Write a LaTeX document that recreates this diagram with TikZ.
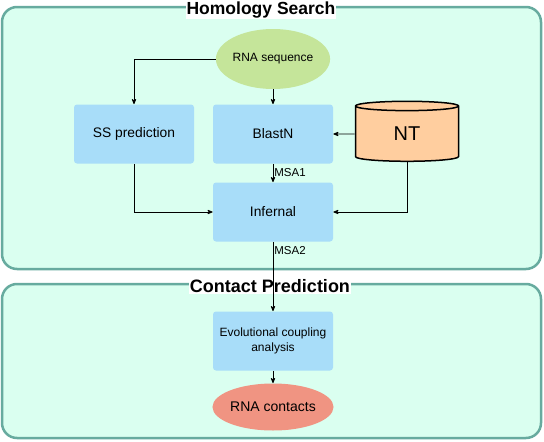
\documentclass[tikz,border=0pt]{standalone}
\usepackage{fontspec}
\setmainfont{Liberation Sans}
\usetikzlibrary{arrows,shapes.geometric}

\definecolor{groupline}{RGB}{103,171,159}
\definecolor{groupfill}{RGB}{218,255,240}
\definecolor{boxfill}{RGB}{168,221,249}
\definecolor{seqfill}{RGB}{197,229,154}
\definecolor{dbfill}{RGB}{255,206,159}
\definecolor{outfill}{RGB}{240,148,130}

\tikzset{
  group/.style={draw=groupline,fill=groupfill,line width=2.5pt,rounded corners=15pt},
  grouptitle/.style={fill=white,inner sep=1pt,font=\fontsize{17.5}{20}\selectfont\bfseries},
  box/.style={rectangle,fill=boxfill,rounded corners=3pt,minimum width=120pt,minimum height=59pt,
    inner sep=0pt,align=center,font=\fontsize{13.8}{16}\selectfont},
  lbl/.style={font=\fontsize{11.5}{13}\selectfont,inner sep=1pt}
}

\begin{document}
\begin{tikzpicture}[x=1pt,y=-1pt,>=stealth',line width=0.8pt]
  \useasboundingbox (0,0) rectangle (544,442);
  \draw[group] (2,7) rectangle (541,269);
  \draw[group] (2,284) rectangle (541,438);
  \node[grouptitle] (homtitle) at (261,10) {Homology Search};
  \node[grouptitle,font=\fontsize{18}{20}\selectfont\bfseries] (contitle) at (270,286) {Contact Prediction};

  \node[ellipse,fill=seqfill,minimum width=100pt,minimum height=60pt,inner sep=0pt,
    font=\fontsize{12}{14}\selectfont] (seq) at (273,59) {RNA sequence};
  \node[box]         (blast) [below of=seq, node distance=75pt] {BlastN};
  \node[box]         (ss) [left of=blast, node distance=139pt] {SS prediction};
  \node[cylinder,shape border rotate=90,aspect=0.35,draw=black,line width=1.5pt,fill=dbfill,
    minimum width=103pt,minimum height=60pt,inner sep=0pt,
    font=\fontsize{20}{24}\selectfont] (nt) [right of=blast, node distance=134pt] {NT};
  \node[box]         (infernal) [below of=blast, node distance=78pt] {Infernal};
  \node[box,font=\fontsize{12}{15}\selectfont] (evol) [below of=infernal, node distance=129pt]
    {Evolutional coupling\\analysis};
  \node[ellipse,fill=outfill,minimum width=120pt,minimum height=47pt,inner sep=0pt,
    font=\fontsize{14}{17}\selectfont] (contacts) [below of=evol, node distance=66pt] {RNA contacts};

  %\path[->] (seq) edge (ss);
  \draw[->] (seq.west) -| (ss.north);
  \draw[->] (seq) -- (blast);
  \draw[->] (nt) -- (blast);
  \draw[->] (blast) -- node[lbl,right,pos=0.45] {MSA1} (infernal);
  \draw[->] (ss) |- (infernal);
  \draw[->] (nt) |- (infernal);
  \draw[->] (infernal) -- node[lbl,right,pos=0.13] {MSA2} (evol);
  \draw[->] (evol) -- (contacts);
\end{tikzpicture}
\end{document}
